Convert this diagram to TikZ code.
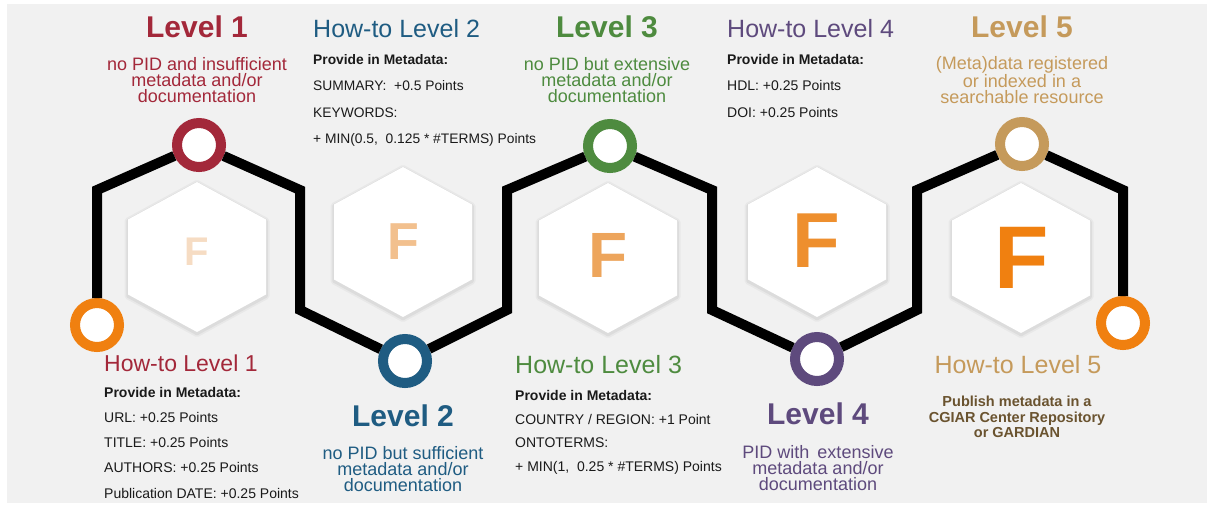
\documentclass[tikz,border=0pt]{standalone}
\usepackage{fontspec}
\setmainfont{Liberation Sans}

\definecolor{bggrey}{HTML}{F1F1F1}
\definecolor{bodytext}{HTML}{1A1A1A}
\definecolor{lvlred}{HTML}{A3283A}
\definecolor{lvlblue}{HTML}{1F5C82}
\definecolor{lvlgreen}{HTML}{4E8B3F}
\definecolor{lvlpurple}{HTML}{5E4A7D}
\definecolor{lvlgold}{HTML}{C59A5B}
\definecolor{lvlbrown}{HTML}{6A532F}
\definecolor{ringorange}{HTML}{F08010}
\definecolor{fone}{HTML}{F6DCC3}
\definecolor{ftwo}{HTML}{F2C08E}
\definecolor{fthree}{HTML}{EDA55C}
\definecolor{ffour}{HTML}{EE8F2E}
\definecolor{ffive}{HTML}{F08010}

\tikzset{
  ring/.style={circle, draw=#1, line width=10pt, fill=white, minimum size=44pt, inner sep=0pt},
  track/.style={line width=10pt, black},
  % soft edge under each white cell
  hexcell/.style={fill=white,
    preaction={draw=black, draw opacity=0.035, line width=7pt, line join=round, transform canvas={yshift=-1.5pt}},
    preaction={draw=black, draw opacity=0.05, line width=3.5pt, line join=round, transform canvas={yshift=-1.5pt}}},
  letter/.style={font=\fontsize{#1}{#1}\selectfont\bfseries, inner sep=0pt},
  lvl/.style={text=#1, font=\fontsize{30}{32}\selectfont\bfseries, inner sep=0pt},
  lvldesc/.style={text=#1, font=\fontsize{18}{16.3}\selectfont, align=center, inner sep=0pt},
  howto/.style={text=#1, font=\fontsize{25}{27}\selectfont, inner sep=0pt, anchor=west},
  points/.style={text=bodytext, font=\fontsize{14}{#1}\selectfont, align=left, inner sep=0pt, anchor=north west},
}

\begin{document}
\begin{tikzpicture}[x=1pt, y=1pt]

  \useasboundingbox (0,0) rectangle (1214,-507);
  \fill[bggrey] (7,-4) rectangle (1207,-503);

  % hexagon cells
  \foreach \x/\y in {197/257, 403/242, 608/258, 817/242, 1021/258}
    \fill[hexcell] (\x,-\y) +(0,75) -- +(69,37.5) -- +(69,-37.5) -- +(0,-75)
      -- +(-69,-37.5) -- +(-69,37.5) -- cycle;

  % the F in each cell
  \node[letter=40, text=fone] (f1) at (197,-252) {F};
  \node[letter=52, text=ftwo] (f2) at (403,-242) {F};
  \node[letter=64, text=fthree] (f3) at (608,-255) {F};
  \node[letter=78, text=ffour] (f4) at (816,-241) {F};
  \node[letter=89, text=ffive] (f5) at (1022,-258) {F};

  % rings along the track
  \node[ring=ringorange] (start) at (97,-325) {};
  \node[ring=lvlred] (l1) at (199,-145) {};
  \node[ring=lvlblue] (l2) at (405,-361) {};
  \node[ring=lvlgreen] (l3) at (610,-146) {};
  \node[ring=lvlpurple] (l4) at (817,-359) {};
  \node[ring=lvlgold] (l5) at (1022,-144) {};
  \node[ring=ringorange] (end) at (1123,-323) {};

  % bends of the track
  \foreach \n/\x/\y in {t0/97/190, t1/300/190, b1/300/310, b2/507/310, t2/507/190,
                        t3/712/190, b3/712/310, b4/917/310, t4/917/190, t5/1123/190}
    \coordinate (\n) at (\x,-\y);

  \draw[track] (start) -- (t0) -- (l1) -- (t1) -- (b1) -- (l2) -- (b2) -- (t2) -- (l3)
    -- (t3) -- (b3) -- (l4) -- (b4) -- (t4) -- (l5) -- (t5) -- (end);

  % level titles and descriptions
  \node[lvl=lvlred] (lvl1) at (197,-27) {Level 1};
  \node[lvldesc=lvlred] (desc1) at (197,-80) {no PID and insufficient\\metadata and/or\\documentation};
  \node[lvl=lvlblue] (lvl2) at (403,-416) {Level 2};
  \node[lvldesc=lvlblue] (desc2) at (403,-469) {no PID but sufficient\\metadata and/or\\documentation};
  \node[lvl=lvlgreen] (lvl3) at (607,-27) {Level 3};
  \node[lvldesc=lvlgreen] (desc3) at (607,-80) {no PID but extensive\\metadata and/or\\documentation};
  \node[lvl=lvlpurple] (lvl4) at (818,-414) {Level 4};
  \node[lvldesc=lvlpurple] (desc4) at (818,-468) {PID with\, extensive\\metadata and/or\\documentation};
  \node[lvl=lvlgold] (lvl5) at (1022,-27) {Level 5};
  \node[lvldesc=lvlgold] (desc5) at (1022,-80) {(Meta)data registered\\or indexed in a\\searchable resource};

  % how-to blocks
  \node[howto=lvlred, font=\fontsize{23}{25}\selectfont] (how1) at (104,-363) {How-to Level 1};
  \node[points=25.2] (pts1) at (104,-387) {\textbf{Provide in Metadata:}\\URL: +0.25 Points\\TITLE: +0.25 Points\\AUTHORS: +0.25 Points\\Publication DATE: +0.25 Points};

  \node[howto=lvlblue] (how2) at (313,-29) {How-to Level 2};
  \node[points=26.5, font=\fontsize{13.8}{26.5}\selectfont] (pts2) at (313,-54) {\textbf{Provide in Metadata:}\\SUMMARY:\ \ +0.5 Points\\KEYWORDS:\\+ MIN(0.5,\ \ 0.125 * \#TERMS) Points};

  \node[howto=lvlgreen] (how3) at (515,-365) {How-to Level 3};
  \node[points=23.7] (pts3) at (515,-390) {\textbf{Provide in Metadata:}\\COUNTRY / REGION: +1 Point\\ONTOTERMS:\\+ MIN(1,\ \ 0.25 * \#TERMS) Points};

  \node[howto=lvlpurple] (how4) at (727,-29) {How-to Level 4};
  \node[points=26.5] (pts4) at (727,-54) {\textbf{Provide in Metadata:}\\HDL: +0.25 Points\\DOI: +0.25 Points};

  \node[howto=lvlgold, anchor=center] (how5) at (1018,-365) {How-to Level 5};
  \node[text=lvlbrown, font=\fontsize{14.5}{15.5}\selectfont\bfseries, align=center, inner sep=0pt] (pts5) at (1017,-417) {Publish metadata in a\\CGIAR Center Repository\\or GARDIAN};

\end{tikzpicture}
\end{document}
